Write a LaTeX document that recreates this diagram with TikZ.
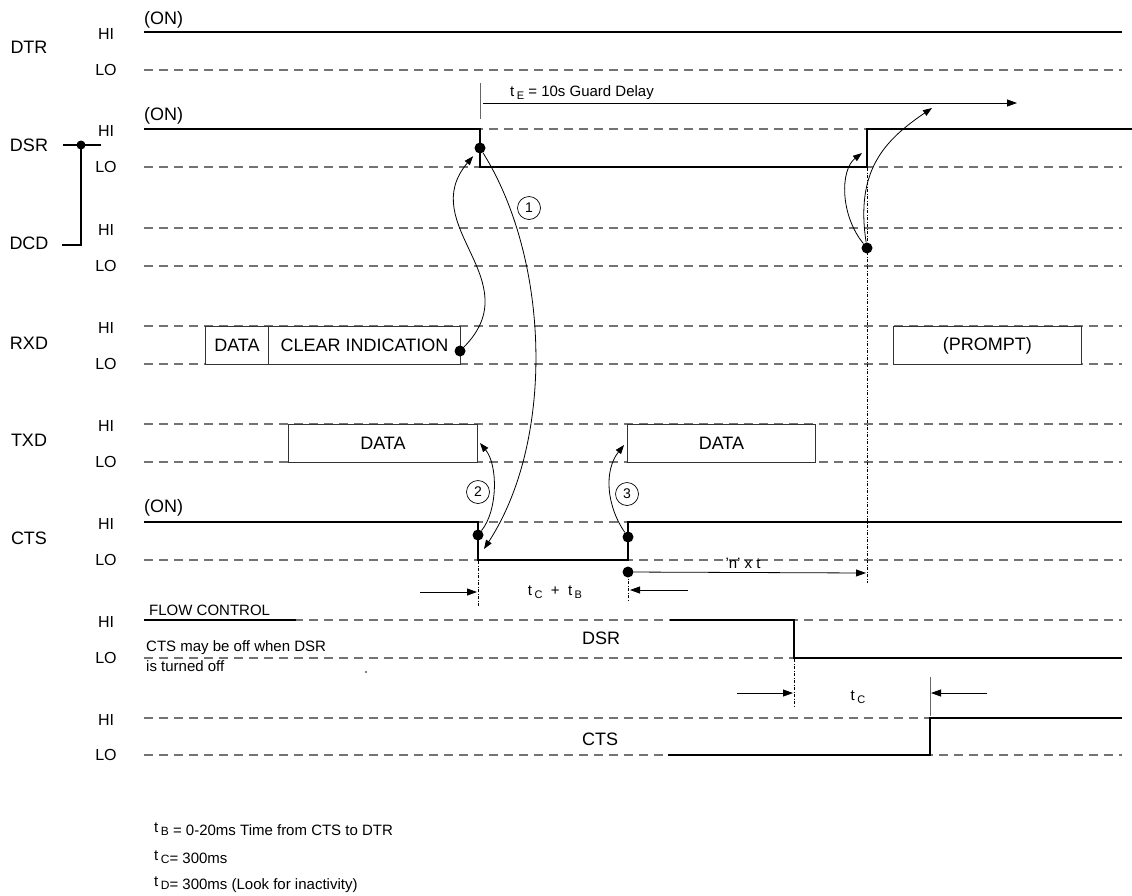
\documentclass[tikz,border=0pt]{standalone}
\usepackage{fontspec}
\setmainfont{Liberation Sans}
\usetikzlibrary{arrows.meta}
\newcommand{\tsb}[1]{t\,{\fontsize{11}{11}\selectfont\raisebox{-2.5pt}{#1}}}
\newcommand{\tleg}[1]{\raisebox{3pt}{t}\,{\fontsize{12}{12}\selectfont #1}}
\begin{document}
\begin{tikzpicture}[x=1pt,y=-1pt,
  sig/.style={line width=1.6pt,line join=miter},
  gridline/.style={draw=black!55,line width=1.1pt,dash pattern=on 9pt off 6pt},
  big/.style={font=\fontsize{18}{18}\selectfont,inner sep=0pt},
  hilo/.style={font=\fontsize{16}{16}\selectfont,inner sep=0pt},
  small/.style={font=\fontsize{15}{15}\selectfont,inner sep=0pt},
  box/.style={draw=black!80,line width=0.9pt,fill=white,inner sep=0pt,minimum height=38pt,anchor=north west,font=\fontsize{18}{18}\selectfont},
  harr/.style={line width=0.8pt,-{Triangle[length=10pt,width=7pt]}},
  carr/.style={line width=0.8pt,-{Triangle[length=9pt,width=6.5pt]}},
  vdd/.style={line width=0.8pt,dash pattern=on 3pt off 1.5pt on 1pt off 1.5pt},
  tick/.style={line width=0.8pt,draw=black!60},
  dot/.style={circle,fill,inner sep=0pt,minimum size=11pt},
  num/.style={circle,draw,line width=0.7pt,inner sep=0pt,minimum size=23pt,font=\fontsize{14}{14}\selectfont},
  brk/.style={line width=1.8pt}
]
\useasboundingbox (0,0) rectangle (1132,895);

% grid lines and HI/LO labels
\foreach \h/\l [count=\k] in {32/70,129/167,228/266,326/364,424/462,522/560,620/658,718/755}{
  \draw[gridline] (144,\h) -- (1122,\h);
  \draw[gridline] (144,\l) -- (1122,\l);
  \node[hilo] (hi\k) at (106,\h+2) {HI};
  \node[hilo] (lo\k) at (106,\l) {LO};
}

% signal names
\foreach \nm/\yy in {DTR/47,DSR/145,DCD/243,RXD/343,TXD/440,CTS/538}
  \node[big] (lab\nm) at (29,\yy) {\nm};

% DSR / DCD bracket
\coordinate (bkA) at (63,145);
\coordinate (bkB) at (101,145);
\coordinate (bkJ) at (81,145);
\coordinate (bkC) at (81,245);
\coordinate (bkD) at (62,245);
\draw[brk] (bkA) -- (bkB);
\draw[brk] (bkJ) -- (bkC) -- (bkD);
\fill (bkJ) circle (4.5);

% (ON) labels
\node[big,anchor=west] (on1) at (144,20) {(ON)};
\node[big,anchor=west] (on2) at (144,116) {(ON)};
\node[big,anchor=west] (on3) at (144,508) {(ON)};

% waveforms
\draw[sig] (144,32) -- (1122,32);
\draw[sig] (144,129) -- (480,129) -- (480,167) -- (867,167) -- (867,129) -- (1132,129);
\draw[sig] (144,522) -- (478,522) -- (478,560) -- (628,560) -- (628,522) -- (1122,522);
\draw[sig] (144,620) -- (296,620);
\draw[sig] (670,620) -- (794,620) -- (794,658) -- (1122,658);
\draw[sig] (668,755) -- (930,755) -- (930,718) -- (1122,718);

% boxes
\node[box,minimum width=63pt] (rxdata) at (205,326) {DATA};
\node[box,minimum width=192pt] (rxclear) at (268,326) {CLEAR INDICATION};
\node[box,minimum width=188pt] (prompt) at (893,326) {(PROMPT)};
\node[box,minimum width=189pt] (txd1) at (288,424) {DATA};
\node[box,minimum width=188pt] (txd2) at (627,424) {DATA};

% guard delay
\coordinate (teTop) at (480,83);
\coordinate (teBot) at (480,119);
\coordinate (teS) at (483,103);
\coordinate (teE) at (1017,103);
\draw[tick] (teTop) -- (teBot);
\draw[harr] (teS) -- (teE);
\node[small,anchor=west] (telab) at (510,93) {\tsb{E} = 10s Guard Delay};

% vertical dash-dot guides
\draw[vdd] (867,168) -- (867,583);
\draw[vdd] (478,561) -- (478,606);
\draw[vdd] (628,574) -- (628,600);
\draw[vdd] (794,659) -- (794,708);

% dots
\node[dot] (dsrdot) at (480,148) {};
\node[dot] (rxddot) at (460,351) {};
\node[dot] (dcddot) at (867,248) {};
\node[dot] (cts1) at (478,535) {};
\node[dot] (cts2) at (628,537) {};
\node[dot] (cts3) at (628,572) {};

% curved arrows
\coordinate (tip1) at (484,549);
\coordinate (tipL) at (862,153);
\coordinate (tipR) at (932,108);
\coordinate (tip2) at (480,443);
\coordinate (tip3) at (624,445);
\draw[carr,shorten >=5pt] (rxddot) .. controls (530,280) and (415,225) .. (dsrdot);
\draw[carr] (dsrdot) .. controls (550,260) and (555,440) .. (tip1);
\draw[carr] (dcddot) .. controls (840,215) and (840,170) .. (tipL);
\draw[carr] (dcddot) .. controls (855,170) and (885,140) .. (tipR);
\draw[carr] (cts1) .. controls (498,510) and (498,465) .. (tip2);
\draw[carr] (cts2) .. controls (606,505) and (604,470) .. (tip3);

% circled numbers
\node[num] (n1) at (529,208) {1};
\node[num] (n2) at (478,492) {2};
\node[num] (n3) at (627,494) {3};

% tC + tB
\coordinate (cbL) at (420,592);
\coordinate (cbLe) at (477,592);
\coordinate (cbR) at (688,590);
\coordinate (cbRe) at (630,590);
\draw[harr] (cbL) -- (cbLe);
\draw[harr] (cbR) -- (cbRe);
\node[small] (tcb) at (555,592) {\tsb{C}\ \ + \ \tsb{B}};

% n x t
\coordinate (nxtE) at (866,573);
\draw[harr] (cts3) -- (nxtE);
\node[small] (nxt) at (743,563) {'n' x t};

% flow control
\node[small,anchor=west] (flow) at (149,610) {FLOW CONTROL};
\node[small,anchor=west] (may1) at (146,648) {CTS may be off when DSR};
\node[small,anchor=west] (may2) at (146,666) {is turned off};
\fill (366,672) circle (0.8);
\node[big] (fdsr) at (601,638) {DSR};
\node[big] (fcts) at (600,739) {CTS};

% tC
\coordinate (tcL) at (737,693);
\coordinate (tcLe) at (793,693);
\coordinate (tcR) at (987,693);
\coordinate (tcRe) at (931,693);
\coordinate (tcTop) at (930,677);
\coordinate (tcBot) at (930,716);
\draw[tick] (tcTop) -- (tcBot);
\draw[harr] (tcL) -- (tcLe);
\draw[harr] (tcR) -- (tcRe);
\node[small] (tclab) at (858,697) {\tsb{C}};

% legend
\node[small,anchor=west] (legB) at (154,829) {\tleg{B} = 0-20ms Time from CTS to DTR};
\node[small,anchor=west] (legC) at (154,857) {\tleg{C}= 300ms};
\node[small,anchor=west] (legD) at (154,885) {\tleg{D}= 300ms (Look for inactivity)};
\end{tikzpicture}
\end{document}
